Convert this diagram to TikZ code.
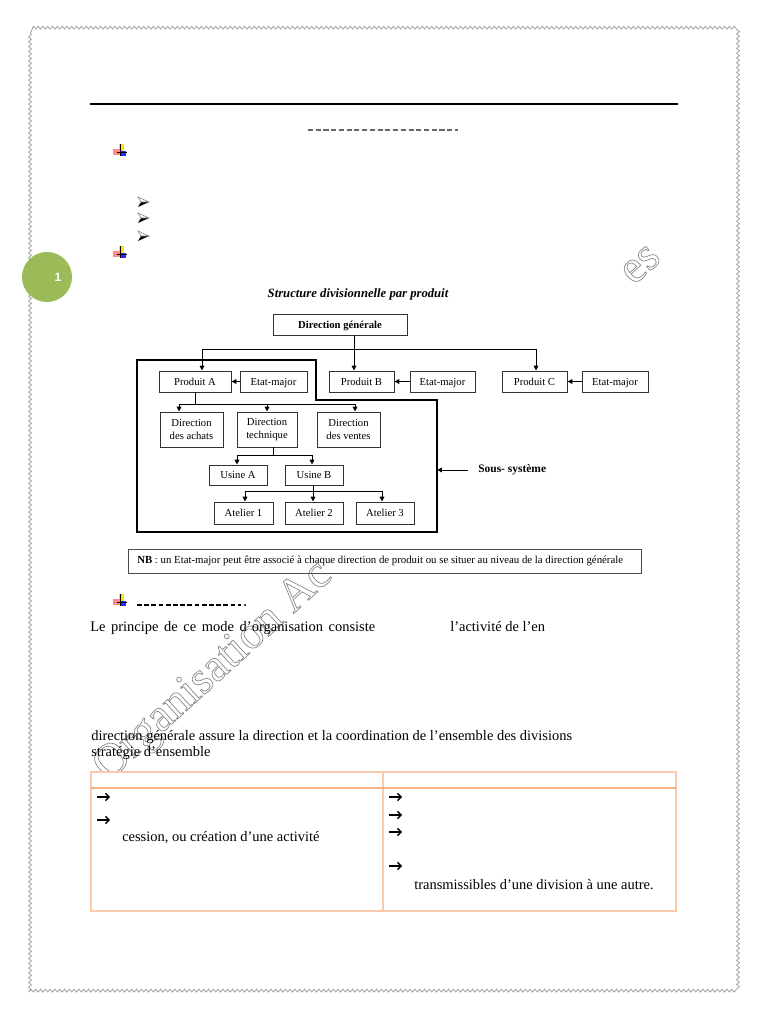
\documentclass[tikz,border=0pt]{standalone}
\usepackage{fontspec}
\setmainfont{Liberation Serif}
\newfontfamily\sansf{Liberation Sans}
\usetikzlibrary{arrows.meta,decorations.pathmorphing}
\definecolor{pagegreen}{RGB}{155,187,89}
\definecolor{tabline}{RGB}{249,203,172}
\definecolor{tabhead}{RGB}{244,177,131}
\definecolor{bordergray}{RGB}{150,150,150}
\newcommand\outl[1]{\special{pdf:literal direct 1 Tr 0.5 w}#1\special{pdf:literal direct 0 Tr}}
\tikzset{
  wordbullet/.pic={
    \fill[yellow!85!orange] (-1.5,-7) rectangle (4,0);
    \fill[red!45] (-7,-2) rectangle (0,3.5);
    \fill[blue!85] (0,0) rectangle (6,4.5);
    \draw[black, line width=0.7pt] (0.5,-7) -- (0.5,4.5);
    \draw[black, line width=0.7pt] (-3.5,1.5) -- (6.5,1.5);
  },
  arrbullet/.pic={
    \fill[black] (-5,5) -- (6,0) -- (-2,0) -- cycle;
    \draw[gray, line width=0.4pt] (-5,-5) -- (6,0) -- (-2,0) -- cycle;
  }
}
\begin{document}
\begin{tikzpicture}[x=0.75pt,y=-0.75pt,
  box2/.style={draw=black!80, line width=0.7pt, fill=white, font=\fontsize{8}{9.2}\selectfont, align=center, inner sep=0pt},
  box/.style={box2, text height=1.6ex, text depth=0.4ex},
  sz/.style 2 args={minimum width=#1*0.75pt, minimum height=#2*0.75pt},
  con/.style={line width=0.75pt, draw=black},
  arr/.style={con, -{Triangle[length=3.6pt,width=3.4pt]}},
  body/.style={font=\fontsize{10.85}{13}\selectfont, inner sep=0pt, anchor=base west},
  wm/.style={font=\fontsize{34.7}{40}\selectfont, text=black!48, inner sep=0pt},
  tarr/.style={line width=1.1pt, -{Straight Barb[length=2.6pt,width=5.5pt]}},
]
\useasboundingbox (0,0) rectangle (768,1024);
\fill[white] (0,0) rectangle (768,1024);

% page border
\draw[bordergray, line width=0.5pt, decorate, decoration={snake, segment length=3.6pt, amplitude=1.1pt}] (30,33) rectangle (737,992);

% header rule and dashes
\draw[line width=1.7pt] (90,104) -- (678,104);
\draw[black!60, line width=1.2pt, dash pattern=on 3.8pt off 2pt] (308,130) -- (458,130);

% bullets
\pic at (120,151) {wordbullet};
\pic at (120,253) {wordbullet};
\pic at (120,601) {wordbullet};
\pic at (143,202) {arrbullet};
\pic at (143,218) {arrbullet};
\pic at (143,236) {arrbullet};

% page number circle
\node[circle, fill=pagegreen, minimum size=50*0.75pt, inner sep=0pt] (pg) at (47,277) {};
\node[font=\sansf\bfseries\fontsize{9}{10}\selectfont, text=white] (pgn) at (58,277) {1};

% watermark
\node[wm, rotate=42.2] (wm1) at (214,672) {\outl{Organisation Ac}};
\node[wm, rotate=42.2] (wm2) at (641,265) {\outl{es}};

% title
\node[font=\fontsize{9.5}{11}\selectfont\bfseries\itshape, inner sep=0pt] (title) at (358,294) {Structure divisionnelle par produit};

% sub-system outline
\draw[line width=1.5pt] (137,360) -- (316,360) -- (316,400) -- (437,400) -- (437,532) -- (137,532) -- cycle;

% boxes
\node[box, sz={134}{21}, font=\fontsize{8}{9.2}\selectfont\bfseries] (DG) at (340,324.5) {Direction générale};
\node[box, sz={72}{21}] (PA) at (195,381.5) {Produit A};
\node[box, sz={67}{21}] (EA) at (273.5,381.5) {Etat-major};
\node[box, sz={65}{21}] (PB) at (361.5,381.5) {Produit B};
\node[box, sz={65}{21}] (EB) at (442.5,381.5) {Etat-major};
\node[box, sz={65}{21}] (PC) at (534.5,381.5) {Produit C};
\node[box, sz={66}{21}] (EC) at (615,381.5) {Etat-major};
\node[box2, sz={63}{35}] (DA) at (191.5,429.5) {Direction\\des achats};
\node[box2, sz={60}{35}] (DT) at (267,429.5) {Direction\\technique};
\node[box2, sz={63}{35}] (DV) at (348.5,429.5) {Direction\\des ventes};
\node[box, sz={58}{20}] (UA) at (238,475) {Usine A};
\node[box, sz={58}{20}] (UB) at (314,475) {Usine B};
\node[box, sz={59}{22}] (A1) at (243.5,513) {Atelier 1};
\node[box, sz={58}{22}] (A2) at (314,513) {Atelier 2};
\node[box, sz={58}{22}] (A3) at (385,513) {Atelier 3};

% level 1 connectors
\coordinate (j1) at (354,349);
\coordinate (j1L) at (202,349);
\coordinate (j1R) at (536,349);
\draw[con] (DG.south -| j1) -- (j1);
\draw[con] (j1L) -- (j1R);
\draw[arr] (j1L) -- (PA.north -| j1L);
\draw[arr] (j1) -- (PB.north -| j1);
\draw[arr] (j1R) -- (PC.north -| j1R);
\draw[arr] (EA.west) -- (PA.east);
\draw[arr] (EB.west) -- (PB.east);
\draw[arr] (EC.west) -- (PC.east);

% level 2
\coordinate (j2) at (195,404);
\coordinate (j2L) at (179,404);
\coordinate (j2M) at (267,404);
\coordinate (j2R) at (355,404);
\draw[con] (PA.south) -- (j2);
\draw[con] (j2L) -- (j2R);
\draw[arr] (j2L) -- (DA.north -| j2L);
\draw[arr] (j2M) -- (DT.north);
\draw[arr] (j2R) -- (DV.north -| j2R);

% level 3
\coordinate (j3) at (273,455);
\coordinate (j3L) at (237,455);
\coordinate (j3R) at (312,455);
\draw[con] (DT.south -| j3) -- (j3);
\draw[con] (j3L) -- (j3R);
\draw[arr] (j3L) -- (UA.north -| j3L);
\draw[arr] (j3R) -- (UB.north -| j3R);

% level 4
\coordinate (j4) at (313,491);
\coordinate (j4L) at (245,491);
\coordinate (j4R) at (382,491);
\draw[con] (UB.south -| j4) -- (j4);
\draw[con] (j4L) -- (j4R);
\draw[arr] (j4L) -- (A1.north -| j4L);
\draw[arr] (j4) -- (A2.north -| j4);
\draw[arr] (j4R) -- (A3.north -| j4R);

% sous-systeme label
\node[font=\fontsize{8.6}{10}\selectfont\bfseries, inner sep=0pt, anchor=west] (ss) at (478,470) {Sous- système};
\coordinate (ssin) at (437,470);
\draw[arr] ([xshift=-7.5pt]ss.west) -- (ssin);

% NB box
\node[draw=black!70, line width=0.7pt, minimum width=513*0.75pt, minimum height=24*0.75pt, inner sep=0pt] (nb) at (384.5,561) {};
\node[font=\fontsize{8.1}{9}\selectfont, inner sep=0pt, anchor=west] (nbt) at (137,561) {\textbf{NB} : un Etat-major peut être associé à chaque direction de produit ou se situer au niveau de la direction générale};

% section dashes
\draw[black, line width=1.5pt, dash pattern=on 3.6pt off 1.8pt] (137,605) -- (241,605);
\fill[black] (245,605) circle (1.1);

% body text
\node[body] (t1) at (90,631) {\makebox[213.75pt][s]{Le principe de ce mode d’organisation consiste}};
\node[body] (t2) at (450,631) {l’activité de l’en};
\node[body] (t3) at (91,740) {direction générale assure la direction et la coordination de l’ensemble des divisions};
\node[body] (t4) at (91,756) {stratégie d’ensemble};

% table
\draw[tabline, fill=white, line width=0.8pt] (91,772) rectangle (676,911);
\draw[tabline, line width=0.8pt] (383,772) -- (383,911);
\draw[tabhead, line width=1.6pt] (91,788) -- (676,788);

\draw[tarr] (97,797) -- (110,797);
\draw[tarr] (97,820) -- (110,820);
\node[body] (t5) at (122,841) {cession, ou création d’une activité};
\draw[tarr] (389,797) -- (402,797);
\draw[tarr] (389,815) -- (402,815);
\draw[tarr] (389,832) -- (402,832);
\draw[tarr] (389,866) -- (402,866);
\node[body] (t6) at (414,889) {transmissibles d’une division à une autre.};
\end{tikzpicture}
\end{document}
